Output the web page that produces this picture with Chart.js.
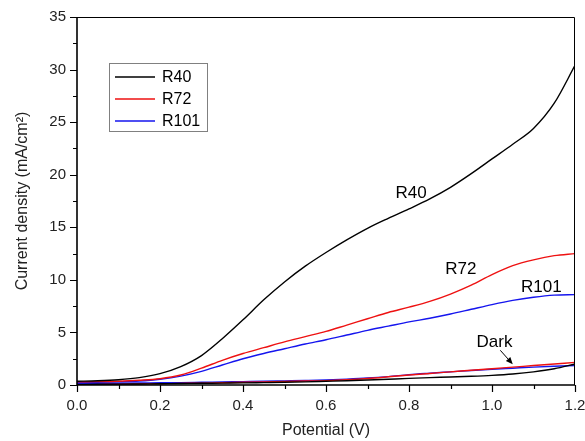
<!DOCTYPE html>
<html>
<head>
<meta charset="utf-8">
<script src="https://cdn.jsdelivr.net/npm/chart.js@4.4.1/dist/chart.umd.min.js"></script>
<style>
  html, body { margin: 0; padding: 0; background: #fff; }
  #wrap { width: 585px; height: 441px; }
</style>
</head>
<body>
<div id="wrap"><canvas id="myChart"></canvas></div>
<script>
// Potential (V) sampled along the curves
const potential = [0, 0.05, 0.1, 0.15, 0.2, 0.25, 0.3, 0.35, 0.4, 0.45, 0.5, 0.55, 0.6,
                   0.65, 0.7, 0.75, 0.8, 0.85, 0.9, 0.95, 1.0, 1.05, 1.1, 1.15, 1.2];

// light curves (mA/cm2)
const r40  = [0.35, 0.4, 0.5, 0.7, 1.08, 1.75, 2.8, 4.4, 6.2, 8.1, 9.8, 11.3, 12.6,
              13.8, 14.9, 15.85, 16.75, 17.7, 18.8, 20.1, 21.5, 22.9, 24.4, 26.8, 30.4];
const r72  = [0.3, 0.32, 0.36, 0.45, 0.6, 0.95, 1.6, 2.35, 3.0, 3.55, 4.1, 4.6, 5.1,
              5.7, 6.3, 6.9, 7.4, 7.95, 8.65, 9.5, 10.5, 11.35, 11.9, 12.3, 12.5];
const r101 = [0.22, 0.25, 0.3, 0.38, 0.55, 0.85, 1.3, 1.9, 2.5, 3.0, 3.45, 3.9, 4.3,
              4.75, 5.2, 5.6, 6.0, 6.35, 6.75, 7.2, 7.65, 8.05, 8.35, 8.55, 8.6];

// dark curves
const darkR40  = [0.05, 0.07, 0.08, 0.1, 0.12, 0.14, 0.16, 0.18, 0.2, 0.23, 0.26, 0.3, 0.35,
                  0.4, 0.47, 0.55, 0.63, 0.7, 0.76, 0.83, 0.92, 1.05, 1.25, 1.55, 2.0];
const darkR72  = [0.02, 0.04, 0.06, 0.09, 0.12, 0.15, 0.18, 0.22, 0.26, 0.3, 0.34, 0.38, 0.42,
                  0.5, 0.62, 0.78, 0.95, 1.1, 1.25, 1.4, 1.55, 1.7, 1.85, 2.0, 2.15];
const darkR101 = [0.13, 0.15, 0.17, 0.19, 0.21, 0.23, 0.26, 0.29, 0.32, 0.35, 0.39, 0.43, 0.48,
                  0.56, 0.66, 0.8, 0.98, 1.12, 1.25, 1.38, 1.5, 1.6, 1.7, 1.78, 1.85];

const seriesNames = ['R40', 'R72', 'R101'];

// text labels placed on the plot (data coords)
const noteText = ['R40', 'R72', 'R101', 'Dark'];
const noteX = [0.805, 0.925, 1.119, 1.006];
const noteY = [18.26, 11.04, 9.26, 4.1];
// arrow from "Dark" to the dark curves
const arrowX = [1.02, 1.05];
const arrowY = [3.3, 1.97];

const FONT = '"Liberation Sans", Arial, sans-serif';

function pts(ys) {
    return potential.map((v, i) => ({ x: v, y: ys[i] }));
}

function line(label, data, color) {
    return {
        label: label,
        data: pts(data),
        borderColor: color,
        backgroundColor: color,
        borderWidth: 1.4,
        pointRadius: 0,
        showLine: true,
        fill: false,
        cubicInterpolationMode: 'monotone'
    };
}

// frame, ticks, legend and text notes
const decorPlugin = {
    id: 'decor',
    afterDraw(chart) {
        const { ctx, chartArea: a, scales: { x, y } } = chart;
        ctx.save();
        ctx.strokeStyle = '#000';

        // top + right border
        ctx.lineWidth = 1;
        ctx.beginPath();
        ctx.moveTo(a.left, a.top + 0.5);
        ctx.lineTo(a.right - 0.5, a.top + 0.5);
        ctx.lineTo(a.right - 0.5, a.bottom);
        ctx.stroke();

        // left + bottom axis
        ctx.lineWidth = 1.6;
        ctx.beginPath();
        ctx.moveTo(a.left, a.top);
        ctx.lineTo(a.left, a.bottom);
        ctx.lineTo(a.right, a.bottom);
        ctx.stroke();

        // ticks (outside), major + minor
        ctx.lineWidth = 1.2;
        ctx.beginPath();
        for (let i = 0; i <= 12; i++) {
            const px = Math.round(x.getPixelForValue(i / 10)) + 0.5;
            const len = i % 2 ? 4 : 7;
            ctx.moveTo(px, a.bottom);
            ctx.lineTo(px, a.bottom + len);
        }
        for (let i = 0; i <= 14; i++) {
            const py = Math.round(y.getPixelForValue(i * 2.5)) + 0.5;
            const len = i % 2 ? 4 : 7;
            ctx.moveTo(a.left, py);
            ctx.lineTo(a.left - len, py);
        }
        ctx.stroke();

        // legend box
        const lx = a.left + 32, ly = a.top + 46;
        ctx.strokeStyle = '#808080';
        ctx.lineWidth = 1;
        ctx.strokeRect(lx + 0.5, ly + 0.5, 98, 68);
        ctx.font = '16px ' + FONT;
        ctx.textBaseline = 'middle';
        ctx.textAlign = 'left';
        seriesNames.forEach((name, i) => {
            const ds = chart.data.datasets[i];
            const ry = ly + 14 + i * 22;
            ctx.strokeStyle = ds.borderColor;
            ctx.lineWidth = 1.5;
            ctx.beginPath();
            ctx.moveTo(lx + 6, ry);
            ctx.lineTo(lx + 46, ry);
            ctx.stroke();
            ctx.fillStyle = '#000';
            ctx.fillText(name, lx + 53, ry + 1);
        });

        // notes on the curves
        ctx.font = '17px ' + FONT;
        ctx.textAlign = 'center';
        ctx.fillStyle = '#000';
        noteText.forEach((t, i) => {
            ctx.fillText(t, x.getPixelForValue(noteX[i]), y.getPixelForValue(noteY[i]));
        });

        // arrow
        const x0 = x.getPixelForValue(arrowX[0]), y0 = y.getPixelForValue(arrowY[0]);
        const x1 = x.getPixelForValue(arrowX[1]), y1 = y.getPixelForValue(arrowY[1]);
        const ang = Math.atan2(y1 - y0, x1 - x0);
        ctx.strokeStyle = '#000';
        ctx.lineWidth = 1;
        ctx.beginPath();
        ctx.moveTo(x0, y0);
        ctx.lineTo(x1 - 5 * Math.cos(ang), y1 - 5 * Math.sin(ang));
        ctx.stroke();
        ctx.beginPath();
        ctx.moveTo(x1, y1);
        ctx.lineTo(x1 - 7 * Math.cos(ang) + 3 * Math.sin(ang), y1 - 7 * Math.sin(ang) - 3 * Math.cos(ang));
        ctx.lineTo(x1 - 7 * Math.cos(ang) - 3 * Math.sin(ang), y1 - 7 * Math.sin(ang) + 3 * Math.cos(ang));
        ctx.closePath();
        ctx.fill();

        ctx.restore();
    }
};

const ctx = document.getElementById('myChart').getContext('2d');
const myChart = new Chart(ctx, {
    type: 'scatter',
    data: {
        datasets: [
            line('R40', r40, '#000000'),
            line('R72', r72, '#ee1111'),
            line('R101', r101, '#1515ee'),
            line('Dark R40', darkR40, '#000000'),
            line('Dark R72', darkR72, '#ee1111'),
            line('Dark R101', darkR101, '#1515ee')
        ]
    },
    options: {
        responsive: true,
        maintainAspectRatio: false,
        animation: false,
        layout: { padding: { left: 0, top: 17, right: 10, bottom: 0 } },
        plugins: {
            legend: { display: false },
            tooltip: { enabled: false }
        },
        scales: {
            x: {
                type: 'linear',
                min: 0,
                max: 1.2,
                afterFit: s => { s.height = 56; s.paddingLeft = 0; s.paddingRight = 0; },
                grid: { display: false, drawTicks: false },
                border: { display: false },
                ticks: {
                    stepSize: 0.2,
                    padding: 12,
                    color: '#222',
                    font: { family: FONT, size: 15 },
                    callback: v => v.toFixed(1)
                },
                title: {
                    display: true,
                    text: 'Potential (V)',
                    color: '#222',
                    font: { family: FONT, size: 16 },
                    padding: { top: 0, bottom: 1 }
                }
            },
            y: {
                type: 'linear',
                min: 0,
                max: 35,
                afterFit: s => { s.width = 77; s.paddingTop = 0; s.paddingBottom = 0; },
                grid: { display: false, drawTicks: false },
                border: { display: false },
                ticks: {
                    stepSize: 5,
                    padding: 11,
                    color: '#222',
                    font: { family: FONT, size: 15 }
                },
                title: {
                    display: true,
                    text: 'Current density (mA/cm²)',
                    color: '#222',
                    font: { family: FONT, size: 16 },
                    padding: { top: 13, bottom: 0 }
                }
            }
        }
    },
    plugins: [decorPlugin]
});
</script>
</body>
</html>
